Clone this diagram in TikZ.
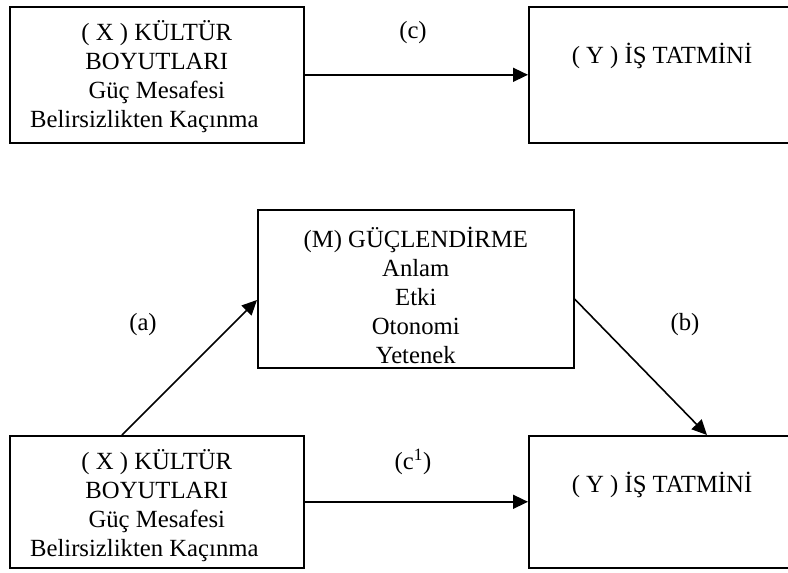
\documentclass[tikz,border=0pt]{standalone}
\usepackage{fontspec}
\setmainfont{Liberation Serif}
\usetikzlibrary{arrows.meta,calc}
\begin{document}
\begin{tikzpicture}[x=1pt,y=-1pt,
  box/.style={draw, line width=1.6pt, rectangle, inner sep=0pt, anchor=north west},
  txt/.style={font=\fontsize{24.7}{29}\selectfont, align=center, inner sep=0pt},
  arr/.style={line width=1.6pt, -{Triangle[length=15pt,width=14pt]}},
]
\useasboundingbox (0,0) rectangle (788,573);
\clip (0,0) rectangle (788,573);
% boxes
\node[box, minimum width=294pt, minimum height=136pt] (X1) at (9,6) {};
\node[box, minimum width=268pt, minimum height=136pt] (Y1) at (528,6) {};
\node[box, minimum width=316pt, minimum height=158pt] (M) at (257,209) {};
\node[box, minimum width=294pt, minimum height=132pt] (X2) at (9,435) {};
\node[box, minimum width=268pt, minimum height=132pt] (Y2) at (528,435) {};
% box texts
\node[txt, anchor=north] (X1t) at ($(X1.north)+(0,12)$)
  {\rule{0pt}{22pt}( X ) KÜLTÜR\\BOYUTLARI\\Güç Mesafesi\\Belirsizlikten Kaçınma\hspace*{25pt}};
\node[txt, anchor=base] (Y1t) at ($(Y1.north west)+(134,57)$) {( Y ) İŞ TATMİNİ};
\node[txt, anchor=north] (Mt) at ($(M.north)+(0,16)$)
  {\rule{0pt}{22pt}(M) GÜÇLENDİRME\\Anlam\\Etki\\Otonomi\\Yetenek};
\node[txt, anchor=north] (X2t) at ($(X2.north)+(0,12)$)
  {\rule{0pt}{22pt}( X ) KÜLTÜR\\BOYUTLARI\\Güç Mesafesi\\Belirsizlikten Kaçınma\hspace*{25pt}};
\node[txt, anchor=base] (Y2t) at ($(Y2.north west)+(134,57)$) {( Y ) İŞ TATMİNİ};
% labels
\node[txt] (lc) at (413,33) {(c)};
\node[txt] (la) at (143,325) {(a)};
\node[txt] (lb) at (685,325) {(b)};
\node[txt] (lcp) at (413,462) {(c\textsuperscript{1})};
% connectors
\draw[arr] (X1.east) -- (Y1.west);
\draw[arr] (X2.east) -- (Y2.west);
\draw[arr] ($(X2.north west)+(113,0)$) -- ($(M.north west)+(0,91)$);
\draw[arr] ($(M.north east)+(0,90)$) -- ($(Y2.north west)+(179,0)$);
\end{tikzpicture}
\end{document}
